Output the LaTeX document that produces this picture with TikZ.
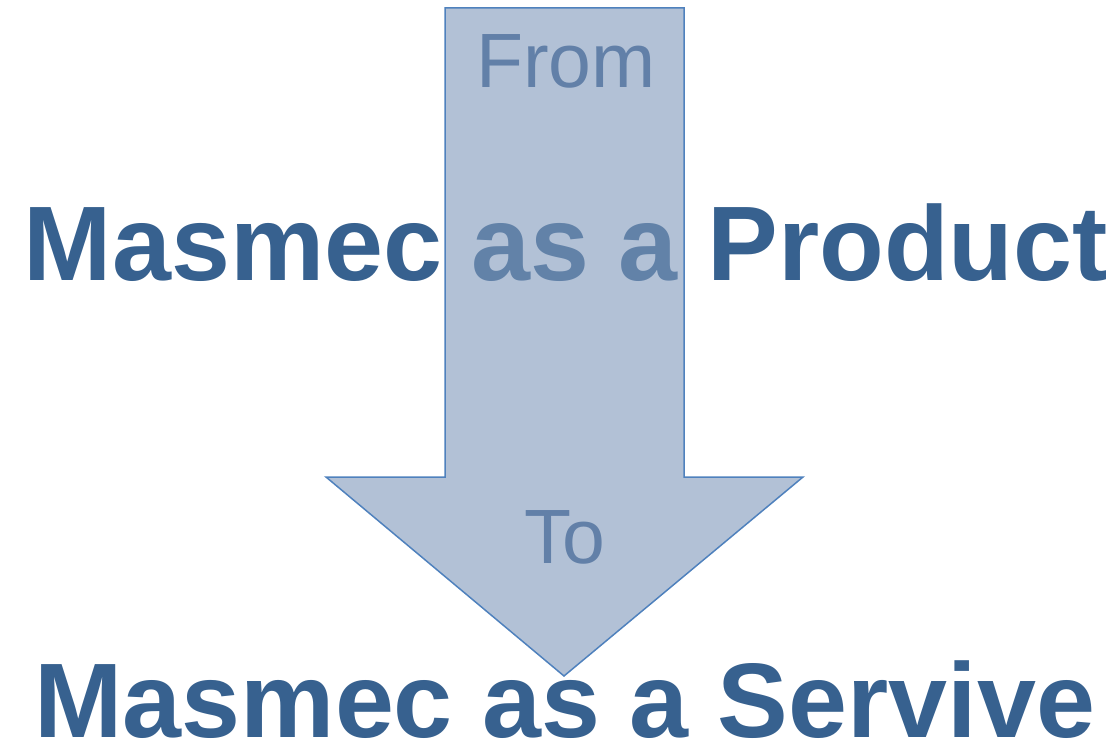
\documentclass[tikz,border=0pt]{standalone}
\usepackage{fontspec}
\setmainfont{Liberation Sans}
\usepackage{tikz}
\usetikzlibrary{calc, positioning}
\definecolor{masblue}{HTML}{37618F}
\definecolor{arrowfill}{RGB}{127,152,186}
\definecolor{arrowline}{HTML}{4F81BD}
\definecolor{labelblue}{HTML}{6280A8}
\tikzstyle{headline} = [anchor=base, inner sep=0pt, text=masblue, font=\fontsize{106}{120}\selectfont\bfseries]
\tikzstyle{label} = [anchor=base, inner sep=0pt, text=labelblue, font=\fontsize{77}{90}\selectfont]
\tikzstyle{bigarrow} = [draw=arrowline, line width=1.5pt, fill=arrowfill, fill opacity=0.6, line join=miter]

\begin{document}
\begin{tikzpicture}[x=1pt, y=-1pt]
	\useasboundingbox (0,0) rectangle (1120,746);
	\node (Product) [headline] at (566,280) {Masmec as a Product};
	\node (Service) [headline] at (565,737) {Masmec as a Servive};
	% arrow points
	\coordinate (ShaftTopLeft) at (445,8);
	\coordinate (ShaftTopRight) at (684,8);
	\coordinate (HeadLeft) at (326,477);
	\coordinate (HeadRight) at (803,477);
	\coordinate (Tip) at (564,676);
	\draw [bigarrow] (ShaftTopLeft) -- (ShaftTopRight) -- (ShaftTopRight |- HeadRight) -- (HeadRight) -- (Tip) -- (HeadLeft) -- (ShaftTopLeft |- HeadLeft) -- cycle;
	\node (From) [label] at (566,88) {From};
	\node (To) [label] at (565,563) {To};
\end{tikzpicture}
\end{document}
